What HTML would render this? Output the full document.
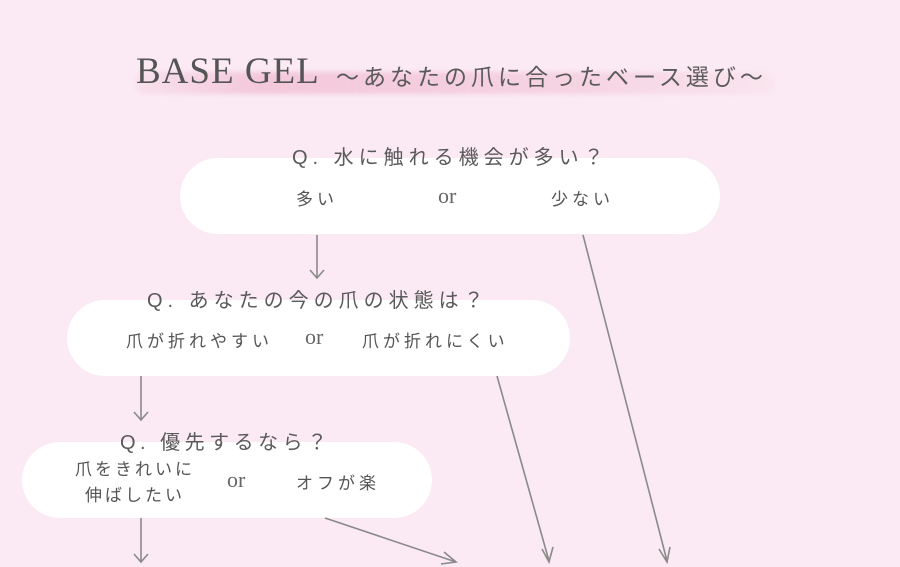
<!DOCTYPE html>
<html><head><meta charset="utf-8"><style>
body{margin:0;width:900px;height:567px;background:#fbeaf3;position:relative;overflow:hidden;font-family:"Liberation Sans","Noto Sans CJK JP",sans-serif;color:#555}
.t{position:absolute;white-space:nowrap}
.pill{position:absolute;background:#fff;border-radius:38px;height:76px}
.q{font-size:20px;letter-spacing:5px;color:#5a5a5a}
.o{font-size:17px;color:#555;letter-spacing:4px}
.or{font-family:"Liberation Serif",serif;font-size:22px;color:#666}
</style></head><body>
<div style="position:absolute;left:135px;top:72px;width:640px;height:22px;background:linear-gradient(90deg,rgba(240,190,210,0.2),rgba(240,185,208,0.7) 20%,rgba(240,190,210,0.5) 70%,rgba(240,190,210,0.1));border-radius:10px;filter:blur(2px)"></div>
<div class="t" style="left:136px;top:50px;font-family:'Liberation Serif',serif;font-size:37px;color:#555;letter-spacing:1px">BASE GEL</div>
<div class="t" style="left:336px;top:58px;font-size:23px;color:#5a5a5a;letter-spacing:4px">～あなたの爪に合ったベース選び～</div>

<div class="pill" style="left:180px;top:158px;width:540px"></div>
<div class="pill" style="left:67px;top:300px;width:503px"></div>
<div class="pill" style="left:22px;top:442px;width:410px"></div>

<div class="t q" style="left:292px;top:141px">Q. 水に触れる機会が多い？</div>
<div class="t o" style="left:296px;top:185px">多い</div>
<div class="t or" style="left:438px;top:183px">or</div>
<div class="t o" style="left:551px;top:185px">少ない</div>

<div class="t q" style="left:147px;top:284px;letter-spacing:5px">Q. あなたの今の爪の状態は？</div>
<div class="t o" style="left:126px;top:327px">爪が折れやすい</div>
<div class="t or" style="left:305px;top:324px">or</div>
<div class="t o" style="left:362px;top:327px">爪が折れにくい</div>

<div class="t q" style="left:120px;top:426px;letter-spacing:4.5px">Q. 優先するなら？</div>
<div class="t o" style="left:75px;top:457px;line-height:26px;text-align:center;letter-spacing:3px">爪をきれいに<br>伸ばしたい</div>
<div class="t or" style="left:227px;top:467px">or</div>
<div class="t o" style="left:296px;top:469px">オフが楽</div>

<svg width="900" height="567" style="position:absolute;left:0;top:0" fill="none" stroke="#8a8a8a" stroke-width="1.6">
<path d="M317 235V277M310 270L317 278L324 270"/>
<path d="M583 235L667 561M659 549L667 562L670 547"/>
<path d="M141 376V419M134 412L141 420L148 412"/>
<path d="M497 376L549 561M542 549L549 562L553 547"/>
<path d="M141 518V561M134 554L141 562L148 554"/>
<path d="M325 518L456 562M444 552L456 562L441 564"/>
</svg>
</body></html>
